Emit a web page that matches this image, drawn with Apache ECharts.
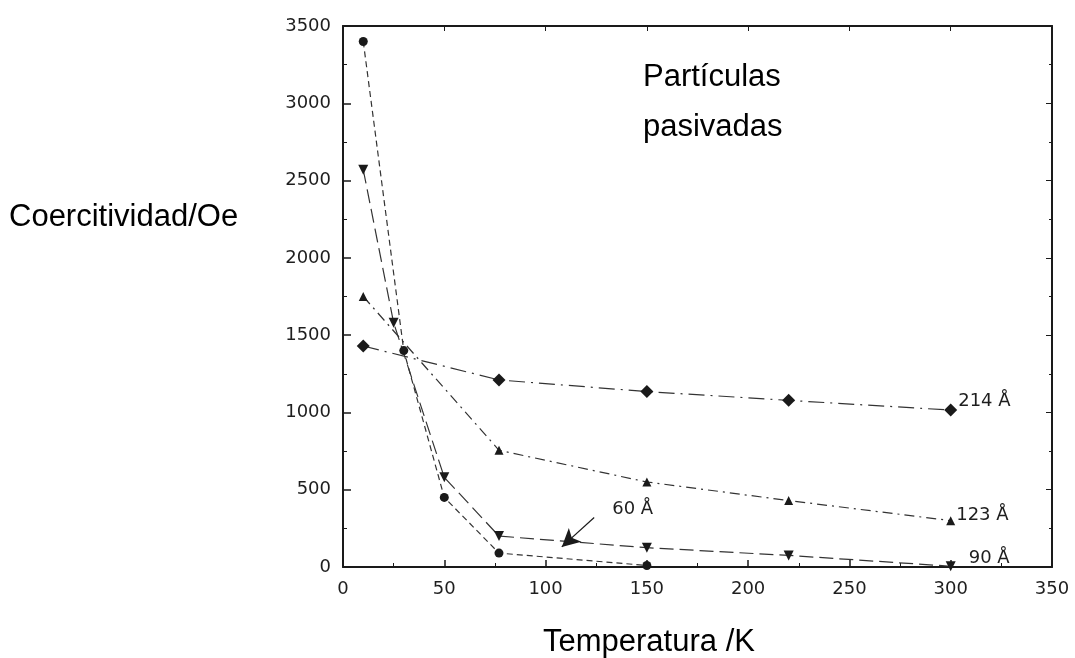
<!DOCTYPE html>
<html>
<head>
<meta charset="utf-8">
<script src="https://cdn.jsdelivr.net/npm/echarts@6/dist/echarts.min.js"></script>
<style>
html,body{margin:0;padding:0;background:#fff;}
#chart{width:1075px;height:658px;}
</style>
</head>
<body>
<div id="chart"></div>
<script>
// Data
const xTicks = [0, 50, 100, 150, 200, 250, 300, 350];
const yTicks = [0, 500, 1000, 1500, 2000, 2500, 3000, 3500];

const temp60  = [10, 30, 50, 77, 150];
const hc60    = [3400, 1400, 450, 90, 10];

const temp90  = [10, 25, 50, 77, 150, 220, 300];
const hc90    = [2570, 1580, 580, 200, 125, 75, 5];

const temp123 = [10, 77, 150, 220, 300];
const hc123   = [1750, 755, 550, 430, 300];

const temp214 = [10, 77, 150, 220, 300];
const hc214   = [1430, 1210, 1135, 1078, 1015];

const seriesNames = ['60 Å', '90 Å', '123 Å', '214 Å'];
const arrow60 = [[124, 320], [108, 130]];
const label60Pos = [143, 370];

const pairs = (xs, ys) => xs.map((x, i) => [x, ys[i]]);
const INK = '#1a1a1a';
const tickFont = {fontFamily: 'DejaVu Sans', fontSize: 18, color: '#1e1e1e'};

function endLabel(text, n, offset) {
  return {
    show: true, position: 'right', distance: 1, offset: offset,
    formatter: p => p.dataIndex === n - 1 ? text : '',
    fontFamily: 'DejaVu Sans', fontSize: 18, color: '#1e1e1e'
  };
}

const chart = echarts.init(document.getElementById('chart'), null, {renderer: 'canvas'});
const axisLine = {show: true, onZero: false, lineStyle: {color: INK, width: 2}};
const fmt = v => String(v);
const option = {
  animation: false,
  backgroundColor: '#fff',
  grid: {left: 343, right: 23, top: 26, bottom: 91},
  xAxis: [{
    type: 'value', min: xTicks[0], max: xTicks[xTicks.length - 1], interval: 50,
    axisLine: axisLine,
    axisTick: {show: true, inside: true, length: 7, lineStyle: {color: INK, width: 1.5}},
    minorTick: {show: true, splitNumber: 2, length: 4, lineStyle: {color: INK, width: 1}},
    axisLabel: Object.assign({margin: 13, formatter: fmt}, tickFont),
    splitLine: {show: false}
  }, {
    type: 'value', position: 'top', min: xTicks[0], max: xTicks[xTicks.length - 1], interval: 50,
    axisLine: {show: true, onZero: false, lineStyle: {color: INK, width: 2}},
    axisTick: {show: true, inside: true, length: 5, lineStyle: {color: INK, width: 1}},
    axisLabel: {show: false}, splitLine: {show: false}
  }],
  yAxis: [{
    type: 'value', min: yTicks[0], max: yTicks[yTicks.length - 1], interval: 500,
    axisLine: axisLine,
    axisTick: {show: true, inside: true, length: 8, lineStyle: {color: INK, width: 1.5}},
    minorTick: {show: true, splitNumber: 2, length: 4, lineStyle: {color: INK, width: 1}},
    axisLabel: Object.assign({margin: 12, formatter: fmt}, tickFont),
    splitLine: {show: false}
  }, {
    type: 'value', position: 'right', min: yTicks[0], max: yTicks[yTicks.length - 1], interval: 500,
    axisLine: {show: true, onZero: false, lineStyle: {color: INK, width: 2}},
    axisTick: {show: true, inside: true, length: 6, lineStyle: {color: INK, width: 1}},
    minorTick: {show: true, splitNumber: 2, length: 3, lineStyle: {color: INK, width: 1}},
    axisLabel: {show: false}, splitLine: {show: false}
  }],
  series: [{
    name: seriesNames[0], type: 'line', data: pairs(temp60, hc60),
    symbol: 'circle', symbolSize: 9, itemStyle: {color: INK},
    lineStyle: {color: '#333', width: 1.2, type: [6, 4]},
    markLine: {
      silent: true, symbol: ['none', 'arrow'], symbolSize: [14, 18],
      lineStyle: {color: INK, width: 1.2, type: 'solid'},
      label: {show: false},
      data: [[{coord: arrow60[0]}, {coord: arrow60[1]}]]
    },
    markPoint: {
      symbol: 'circle', symbolSize: 0,
      label: {show: true, formatter: seriesNames[0], fontFamily: 'DejaVu Sans', fontSize: 18, color: '#1e1e1e'},
      data: [{coord: label60Pos}]
    }
  }, {
    name: seriesNames[1], type: 'line', data: pairs(temp90, hc90),
    symbol: 'triangle', symbolRotate: 180, symbolSize: 10, itemStyle: {color: INK},
    lineStyle: {color: '#333', width: 1.2, type: [14, 6]},
    label: endLabel(seriesNames[1], temp90.length, [12, -8])
  }, {
    name: seriesNames[2], type: 'line', data: pairs(temp123, hc123),
    symbol: 'triangle', symbolSize: 9, itemStyle: {color: INK},
    lineStyle: {color: '#333', width: 1.2, type: [10, 5, 2, 5]},
    label: endLabel(seriesNames[2], temp123.length, [0, -5])
  }, {
    name: seriesNames[3], type: 'line', data: pairs(temp214, hc214),
    symbol: 'diamond', symbolSize: 13, itemStyle: {color: INK},
    lineStyle: {color: '#333', width: 1.2, type: [16, 6, 2, 6]},
    label: endLabel(seriesNames[3], temp214.length, [0, -9])
  }],
  graphic: [
    {type: 'text', left: 9, top: 202, style: {text: 'Coercitividad/Oe', font: '31px "Liberation Sans", Arial, sans-serif', fill: '#000'}},
    {type: 'text', left: 543, top: 627, style: {text: 'Temperatura /K', font: '31px "Liberation Sans", Arial, sans-serif', fill: '#000'}},
    {type: 'text', left: 643, top: 62, style: {text: 'Partículas', font: '31px "Liberation Sans", Arial, sans-serif', fill: '#000'}},
    {type: 'text', left: 643, top: 112, style: {text: 'pasivadas', font: '31px "Liberation Sans", Arial, sans-serif', fill: '#000'}}
  ]
};
chart.setOption(option);
</script>
</body>
</html>
